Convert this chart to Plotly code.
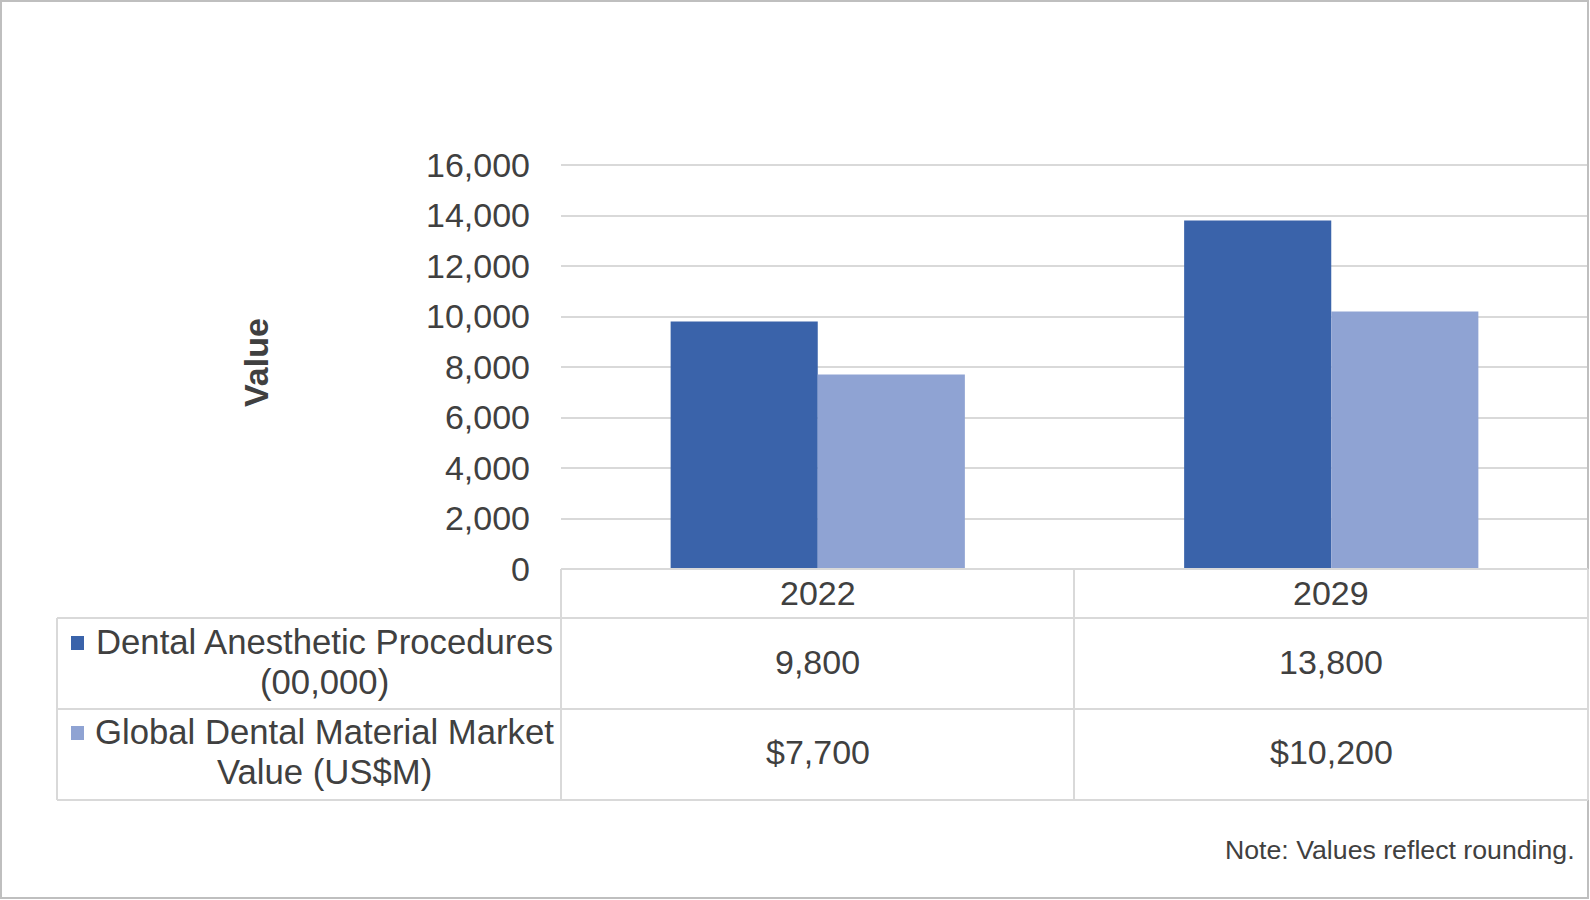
import plotly.graph_objects as go

# ---- data ----
years = ["2022", "2029"]
series_names = ["Dental Anesthetic Procedures (00,000)", "Global Dental Material Market Value (US$M)"]
legend_lines = [["Dental Anesthetic Procedures", "(00,000)"], ["Global Dental Material Market", "Value (US$M)"]]
procedures = [9800, 13800]
market_value = [7700, 10200]
y_ticks = [0, 2000, 4000, 6000, 8000, 10000, 12000, 14000, 16000]
y_title = "Value"
note = "Note: Values reflect rounding."

W, H = 1590, 900
FONT = "Liberation Sans, Arial, sans-serif"
TXT = "#404040"
GRID = "#D9D9D9"
C1 = "#3A63AA"
C2 = "#8FA3D3"

def xp(x):
    return x / W

def yp(y):
    return 1 - y / H

# pixel layout
PL, PR = 561, 1588
Y_MAX = 16040
P_BOT = 569
P_TOP = P_BOT - (P_BOT - 165) * Y_MAX / 16000
ROW_Y = [569, 618, 709, 800]
TBL_L = 57
COL_X = [561, 1074, 1588]

fig = go.Figure()
fig.add_trace(go.Bar(x=years, y=procedures, name=series_names[0], marker=dict(color=C1, line=dict(width=0))))
fig.add_trace(go.Bar(x=years, y=market_value, name=series_names[1], marker=dict(color=C2, line=dict(width=0))))

fig.update_layout(
    width=W, height=H, autosize=False,
    margin=dict(l=0, r=0, t=0, b=0, pad=0, autoexpand=False),
    paper_bgcolor="white", plot_bgcolor="white",
    barmode="group", bargap=0.427, bargroupgap=0,
    showlegend=False,
    font=dict(family=FONT, color=TXT, size=34),
    xaxis=dict(domain=[xp(PL), xp(PR)], showticklabels=False, showgrid=False, automargin=False,
               zeroline=False, showline=False, range=[-0.5, 1.5], fixedrange=True),
    yaxis=dict(domain=[yp(P_BOT), yp(P_TOP)], range=[0, Y_MAX], tickvals=y_ticks, automargin=False,
               tickformat=",d", showgrid=True, gridcolor=GRID, gridwidth=2,
               zeroline=False, showline=False, ticks="", ticklabelstandoff=30,
               tickfont=dict(size=34, color=TXT, family=FONT)),
)

shapes = []
line_style = dict(color=GRID, width=2)
# outer border
shapes.append(dict(type="rect", xref="paper", yref="paper", x0=xp(1), x1=xp(1588), y0=yp(898), y1=yp(1),
                   line=dict(color="#BFBFBF", width=2)))
# table horizontal lines
shapes.append(dict(type="line", xref="paper", yref="paper", x0=xp(PL), x1=xp(PR), y0=yp(ROW_Y[0]), y1=yp(ROW_Y[0]), line=line_style))
for ry in ROW_Y[1:]:
    shapes.append(dict(type="line", xref="paper", yref="paper", x0=xp(TBL_L), x1=xp(PR), y0=yp(ry), y1=yp(ry), line=line_style))
# table vertical lines
shapes.append(dict(type="line", xref="paper", yref="paper", x0=xp(TBL_L), x1=xp(TBL_L), y0=yp(ROW_Y[1]), y1=yp(ROW_Y[3]), line=line_style))
for cx in COL_X:
    shapes.append(dict(type="line", xref="paper", yref="paper", x0=xp(cx), x1=xp(cx), y0=yp(ROW_Y[0]), y1=yp(ROW_Y[3]), line=line_style))
# legend keys
for i, col in enumerate([C1, C2]):
    ky = [636, 726][i]
    shapes.append(dict(type="rect", xref="paper", yref="paper", x0=xp(71), x1=xp(84), y0=yp(ky + 14), y1=yp(ky),
                       fillcolor=col, line=dict(width=0)))

annotations = []
# year headers
for j, yr in enumerate(years):
    cx = (COL_X[j] + COL_X[j + 1]) / 2
    annotations.append(dict(text=yr, x=xp(cx), y=yp(593), xref="paper", yref="paper",
                            xanchor="center", yanchor="middle", showarrow=False, font=dict(size=34, color=TXT)))
# values
for j in range(len(years)):
    cx = (COL_X[j] + COL_X[j + 1]) / 2
    annotations.append(dict(text=f"{procedures[j]:,}", x=xp(cx), y=yp(662), xref="paper", yref="paper",
                            xanchor="center", yanchor="middle", showarrow=False, font=dict(size=34, color=TXT)))
    annotations.append(dict(text=f"${market_value[j]:,}", x=xp(cx), y=yp(752), xref="paper", yref="paper",
                            xanchor="center", yanchor="middle", showarrow=False, font=dict(size=34, color=TXT)))
# legend labels
for i, lines in enumerate(legend_lines):
    base = [642, 732][i]
    for k, ln in enumerate(lines):
        annotations.append(dict(text=ln, x=xp(324), y=yp(base + 40 * k), xref="paper", yref="paper",
                                xanchor="center", yanchor="middle", showarrow=False, font=dict(size=34.7, color=TXT)))
# y title
annotations.append(dict(text=f"<b>{y_title}</b>", x=xp(256), y=yp(363), xref="paper", yref="paper",
                        xanchor="center", yanchor="middle", textangle=-90, showarrow=False,
                        font=dict(size=34, color=TXT)))
# note
annotations.append(dict(text=note, x=xp(1577), y=yp(850), xref="paper", yref="paper",
                        xanchor="right", yanchor="middle", showarrow=False, font=dict(size=26.7, color=TXT)))

fig.update_layout(shapes=shapes, annotations=annotations)
fig.write_html("out.html", config={"displayModeBar": False},
               post_script="document.body.style.margin='0';")
